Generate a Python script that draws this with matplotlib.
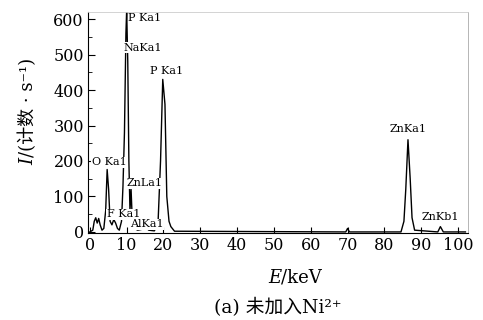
import matplotlib
matplotlib.use("Agg")
import matplotlib.pyplot as plt
from matplotlib.ticker import MultipleLocator

# EDS spectrum (energy in keV, counts/s)
energy = [0.0, 0.8, 1.2, 1.6, 2.0, 2.4, 2.8, 3.3, 3.8, 4.3, 4.7, 5.1, 5.5,
          6.0, 6.5, 7.0, 7.5, 8.0, 8.6, 9.0, 9.4, 9.8, 10.0, 10.3, 10.6,
          10.9, 11.2, 11.5, 12.0, 13.0, 14.5, 15.2, 16.0, 17.5, 18.5, 19.2,
          19.8, 20.4, 20.9, 21.5, 22.0, 23.0, 69.5, 70.0, 70.5, 84.5, 85.3,
          85.8, 86.4, 87.0, 87.5, 88.2, 94.5, 95.2, 96.0, 102.0]
counts = [0, 5, 30, 40, 25, 38, 20, 5, 10, 60, 176, 120, 30,
          20, 35, 25, 10, 5, 30, 130, 280, 560, 625, 480, 200,
          60, 120, 40, 10, 5, 8, 12, 5, 3, 20, 200,
          430, 360, 100, 30, 15, 2, 0, 10, 0, 0, 30,
          120, 260, 150, 40, 5, 0, 15, 0, 0]

peak_labels = ["P Ka1", "NaKa1", "P Ka1", "O Ka1", "ZnLa1", "F Ka1",
               "AlKa1", "ZnKa1", "ZnKb1"]
label_x = [10.4, 9.0, 16.3, 0.5, 10.0, 4.6, 10.9, 81.5, 90.0]
label_y = [603, 519, 454, 196, 137, 50, 22, 289, 42]

xticks = list(range(0, 101, 10))
yticks = list(range(0, 601, 100))

serif = ["DejaVu Serif", "Noto Sans CJK SC"]

fig = plt.figure(figsize=(4.83, 3.2), dpi=100)
ax = fig.add_axes([88 / 483, 1 - 233 / 320, 380 / 483, 221 / 320])

ax.plot(energy, counts, color="black", linewidth=1.0)

for txt, x, y in zip(peak_labels, label_x, label_y):
    ax.text(x, y, txt, fontsize=8, family="DejaVu Serif", ha="left", va="center",
            bbox=dict(facecolor="white", edgecolor="none", pad=0.3))

ax.set_xlim(-0.5, 102.7)
ax.set_ylim(-3, 620)
ax.set_xticks(xticks)
ax.set_yticks(yticks)
ax.yaxis.set_minor_locator(MultipleLocator(50))
ax.tick_params(axis="both", direction="in", labelsize=11.5, pad=3)
ax.tick_params(axis="y", which="major", length=5)
ax.tick_params(axis="y", which="minor", length=3, direction="in")
ax.tick_params(axis="x", length=4)
for lab in ax.get_xticklabels() + ax.get_yticklabels():
    lab.set_family("DejaVu Serif")

ax.spines["left"].set_color("black")
ax.spines["bottom"].set_color("black")
ax.spines["top"].set_color("#cccccc")
ax.spines["right"].set_color("#aaaaaa")
ax.spines["top"].set_linewidth(0.6)
ax.spines["right"].set_linewidth(0.6)

# y label: italic I followed by the rest
yl1 = fig.text(28 / 483, 1 - 165 / 320, "I", rotation=90, rotation_mode="anchor",
               ha="left", va="center", fontsize=13, family="DejaVu Serif",
               style="italic")
fig.canvas.draw()
bb = yl1.get_window_extent()
fig.text(28 / 483, bb.y1 / 320 + 0.003, "/(计数 · s⁻¹)", rotation=90,
         rotation_mode="anchor", ha="left", va="center", fontsize=13,
         family=serif)

# x label: italic E followed by /keV
xl1 = fig.text(268 / 483, 1 - 278 / 320, "E", ha="left", va="center",
               fontsize=13, family="DejaVu Serif", style="italic")
fig.canvas.draw()
bb = xl1.get_window_extent()
fig.text(bb.x1 / 483, 1 - 278 / 320, "/keV", ha="left", va="center",
         fontsize=13, family="DejaVu Serif")

fig.text(278 / 483, 1 - 307 / 320, "(a) 未加入Ni²⁺", ha="center", va="center",
         fontsize=13.5, family=serif)

fig.savefig("out.png", dpi=100)
